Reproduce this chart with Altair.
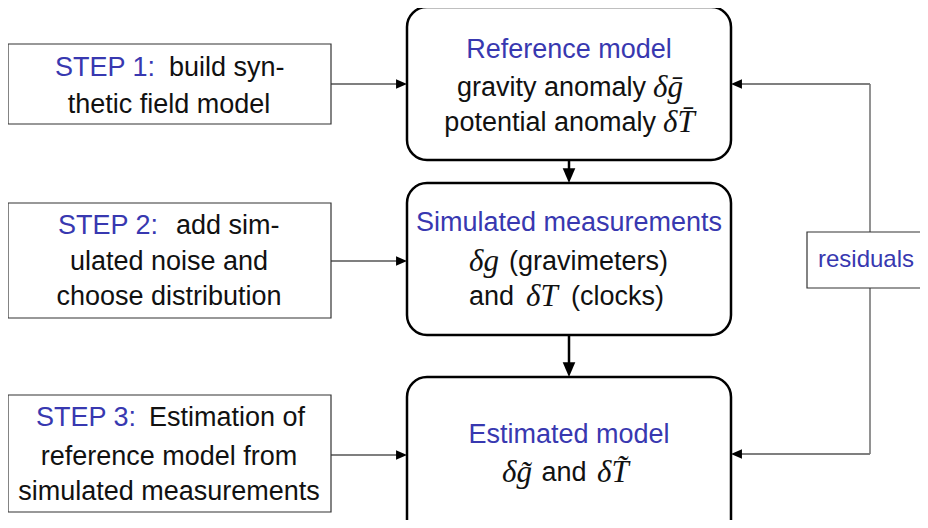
import altair as alt
import pandas as pd

# ---------------- layout (pixel coordinates of the picture) ----------------
# main rounded boxes
main_x0 = [407, 407, 407]
main_x1 = [731, 731, 731]
main_y0 = [7, 183, 377]
main_y1 = [160, 335, 560]

# step boxes (left) + residuals box (right)
sq_x0 = [8, 8, 8, 807]
sq_x1 = [331, 331, 331, 945]
sq_y0 = [44, 203, 395, 232]
sq_y1 = [124, 318, 512, 288]

# thin black connector segments
thin_x0 = [331, 331, 331, 737, 737]
thin_x1 = [401, 401, 401, 870, 870]
thin_y0 = [84, 261, 455, 84, 454]
thin_y1 = [84, 261, 455, 84, 454]

# grey feedback segments (vertical)
grey_x0 = [870, 870]
grey_y0 = [84, 288]
grey_y1 = [232, 454]

# thick vertical connectors
thick_x = [569, 569]
thick_y0 = [160, 335]
thick_y1 = [175, 369]

# arrow tips
right_tip_x = [407, 407, 407]
right_tip_y = [84, 261, 455]
left_tip_x = [731, 731]
left_tip_y = [84, 454]
down_tip_x = [569, 569]
down_tip_y = [183, 377]

# ---------------- texts ----------------
txt_text = [
    "Reference model", "gravity anomaly", "\u03b4g\u0304", "potential anomaly", "\u03b4T\u0304",
    "Simulated measurements", "\u03b4g", "(gravimeters)", "and", "\u03b4T", "(clocks)",
    "Estimated model", "\u03b4g\u0303", "and", "\u03b4T\u0303",
    "STEP 1:", "build syn-", "thetic field model",
    "STEP 2:", "add sim-", "ulated noise and", "choose distribution",
    "STEP 3:", "Estimation of", "reference model from", "simulated measurements",
    "residuals",
]
txt_x = [
    569, 646, 653, 656, 663,
    569, 499, 509, 514, 526, 571,
    569, 532, 564, 597,
    155, 169, 169,
    158, 176, 169, 169,
    136, 149, 169, 169,
    866,
]
txt_y = [
    50, 88, 88, 123, 123,
    223, 262, 262, 297, 297, 297,
    435, 473, 473, 473,
    68, 68, 105,
    226, 226, 262, 297,
    418, 418, 457, 492,
    260,
]
txt_kind = [
    "blue_c", "black_r", "math_l", "black_r", "math_l",
    "blue_c", "math_r", "black_l", "black_r", "math_l", "black_l",
    "blue_c", "math_r", "black_c", "math_l",
    "blue_r", "black_l", "black_c",
    "blue_r", "black_l", "black_c", "black_c",
    "blue_r", "black_l", "black_c", "black_c",
    "blue_small",
]

BLUE = "#3838b0"
INK = "#111111"

W, H = 912, 512
xs = alt.Scale(domain=[8, 8 + W], nice=False, zero=False)
ys = alt.Scale(domain=[8, 8 + H], nice=False, zero=False, reverse=True)


def X(f):
    return alt.X(f, type="quantitative", scale=xs, axis=None)


def Y(f):
    return alt.Y(f, type="quantitative", scale=ys, axis=None)


main_df = pd.DataFrame({"x": main_x0, "x2": main_x1, "y": main_y0, "y2": main_y1})
sq_df = pd.DataFrame({"x": sq_x0, "x2": sq_x1, "y": sq_y0, "y2": sq_y1})
thin_df = pd.DataFrame({"x": thin_x0, "x2": thin_x1, "y": thin_y0, "y2": thin_y1})
grey_df = pd.DataFrame({"x": grey_x0, "y": grey_y0, "y2": grey_y1})
thick_df = pd.DataFrame({"x": thick_x, "y": thick_y0, "y2": thick_y1})
rt_df = pd.DataFrame({"x": right_tip_x, "y": right_tip_y})
lt_df = pd.DataFrame({"x": left_tip_x, "y": left_tip_y})
dt_df = pd.DataFrame({"x": down_tip_x, "y": down_tip_y})
txt_df = pd.DataFrame({"x": txt_x, "y": txt_y, "text": txt_text, "kind": txt_kind})

main_boxes = alt.Chart(main_df).mark_rect(
    fill="white", stroke="black", strokeWidth=2.5, cornerRadius=20
).encode(x=X("x"), x2="x2", y=Y("y"), y2="y2")

sq_boxes = alt.Chart(sq_df).mark_rect(
    fill="white", stroke="#333333", strokeWidth=1.2
).encode(x=X("x"), x2="x2", y=Y("y"), y2="y2")

thin_lines = alt.Chart(thin_df).mark_rule(color="black", strokeWidth=1.1).encode(
    x=X("x"), x2="x2", y=Y("y"), y2="y2"
)
grey_lines = alt.Chart(grey_df).mark_rule(color="#777777", strokeWidth=1.6).encode(
    x=X("x"), y=Y("y"), y2="y2"
)
thick_lines = alt.Chart(thick_df).mark_rule(color="black", strokeWidth=2.5).encode(
    x=X("x"), y=Y("y"), y2="y2"
)

right_heads = alt.Chart(rt_df).mark_point(
    shape="M-2,-0.86 L0,0 L-2,0.86 Z", size=120, filled=True, color="black", opacity=1
).encode(x=X("x"), y=Y("y"))
left_heads = alt.Chart(lt_df).mark_point(
    shape="M2,-0.86 L0,0 L2,0.86 Z", size=120, filled=True, color="black", opacity=1
).encode(x=X("x"), y=Y("y"))
down_heads = alt.Chart(dt_df).mark_point(
    shape="M-0.85,-2 L0,0 L0.85,-2 Z", size=220, filled=True, color="black", opacity=1
).encode(x=X("x"), y=Y("y"))

SANS = "Liberation Sans"
MATH = "Liberation Serif"


def text_layer(kind, align, color, font, size, style="normal"):
    return alt.Chart(txt_df).transform_filter(
        alt.datum.kind == kind
    ).mark_text(
        align=align, baseline="middle", color=color, font=font,
        fontSize=size, fontStyle=style
    ).encode(x=X("x"), y=Y("y"), text="text:N")


texts = [
    text_layer("blue_c", "center", BLUE, SANS, 27),
    text_layer("blue_r", "right", BLUE, SANS, 27),
    text_layer("blue_small", "center", BLUE, SANS, 24),
    text_layer("black_c", "center", INK, SANS, 27),
    text_layer("black_r", "right", INK, SANS, 27),
    text_layer("black_l", "left", INK, SANS, 27),
    text_layer("math_l", "left", INK, MATH, 31, "italic"),
    text_layer("math_r", "right", INK, MATH, 31, "italic"),
]

chart = alt.layer(
    thin_lines, grey_lines, thick_lines, main_boxes, sq_boxes,
    right_heads, left_heads, down_heads, *texts
).properties(
    width=W, height=H, padding=0, background="white",
    autosize=alt.AutoSizeParams(type="none")
).configure_view(stroke=None)

chart.save("out.html", embed_options={"renderer": "svg", "actions": False})
